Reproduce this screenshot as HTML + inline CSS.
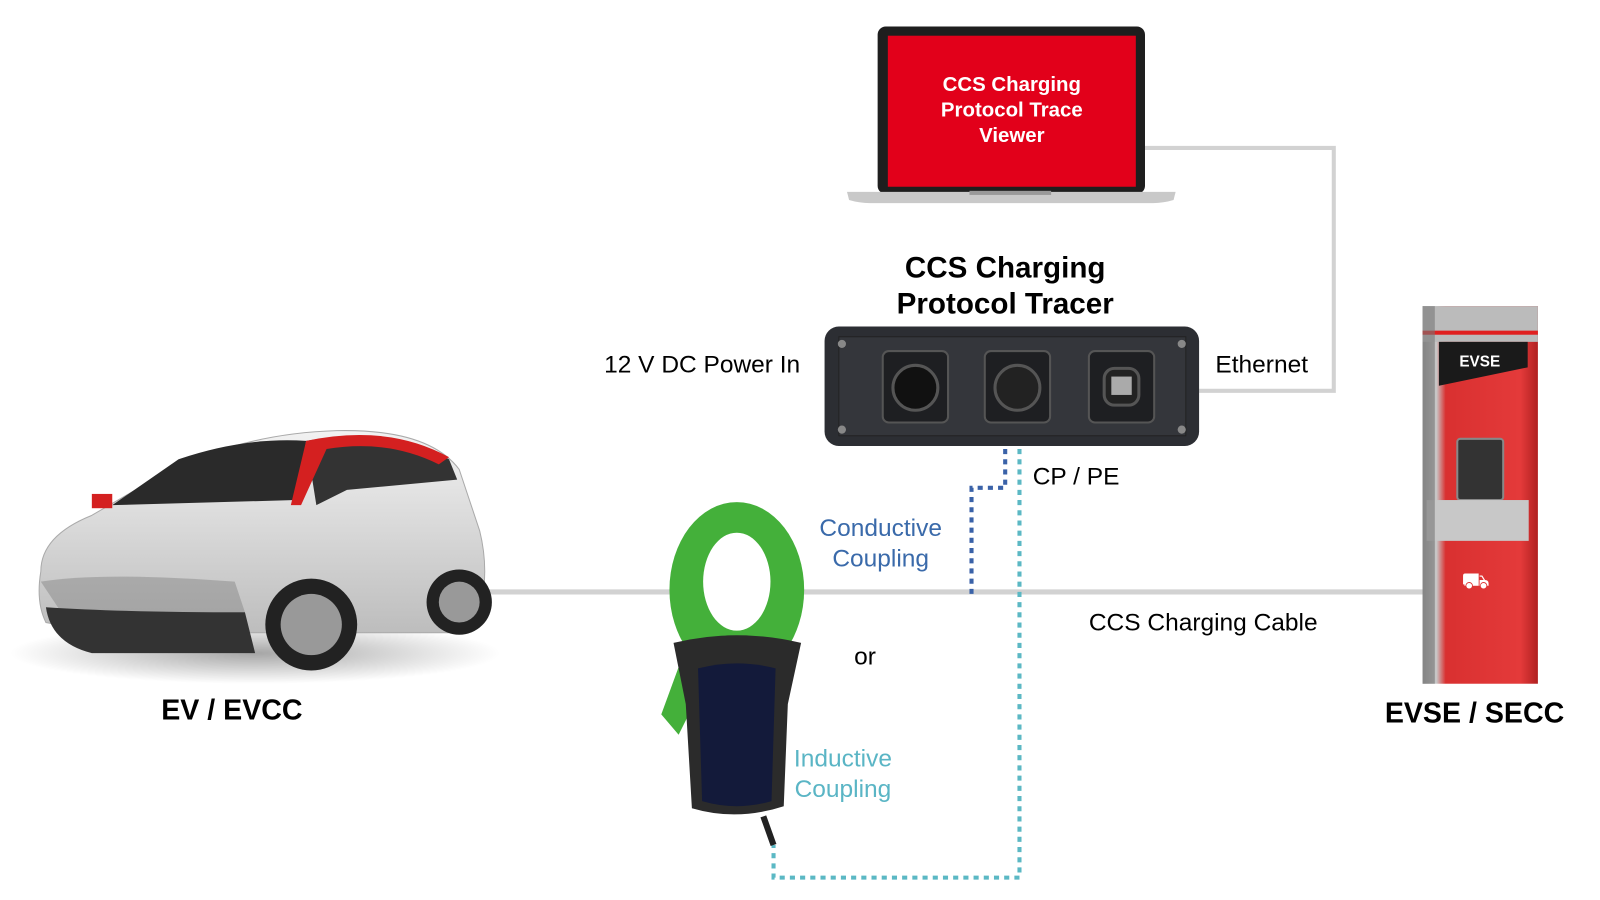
<!DOCTYPE html>
<html><head><meta charset="utf-8"><style>
body{margin:0;width:1600px;height:900px;background:#fff;position:relative;overflow:hidden;font-family:"Liberation Sans",Arial,sans-serif}
#w{position:absolute;left:0;top:0;width:1568px;height:882px;transform:scale(1.0205);transform-origin:0 0}
.t{position:absolute;white-space:nowrap}
</style></head><body><div id="w">
<svg width="1568" height="882" style="position:absolute;left:0;top:0">
<defs>
<linearGradient id="ev" x1="0" x2="1"><stop offset="0" stop-color="#9a9a9a"/><stop offset=".12" stop-color="#c8c8c8"/><stop offset=".2" stop-color="#d93030"/><stop offset=".85" stop-color="#e43a3a"/><stop offset="1" stop-color="#b02020"/></linearGradient>
<linearGradient id="body" x1="0" y1="0" x2="0" y2="1"><stop offset="0" stop-color="#f2f2f2"/><stop offset="1" stop-color="#bdbdbd"/></linearGradient>
<radialGradient id="sh"><stop offset="0" stop-color="#000" stop-opacity=".35"/><stop offset="1" stop-color="#000" stop-opacity="0"/></radialGradient>
</defs>
<polyline points="1122,145 1307,145 1307,383 1175,383" fill="none" stroke="#d2d2d2" stroke-width="4"/>
<line x1="470" y1="580" x2="1396" y2="580" stroke="#d2d2d2" stroke-width="5"/>
<polyline points="985,440 985,478 952,478 952,585" fill="none" stroke="#3a62a8" stroke-width="4" stroke-dasharray="5,5"/>
<polyline points="999,440 999,860 758,860 758,828" fill="none" stroke="#5bb8c4" stroke-width="4" stroke-dasharray="5,5"/>
<rect x="860" y="26" width="262" height="164" rx="8" fill="#1e1e1e"/>
<rect x="870" y="35" width="243" height="148" fill="#e2001a"/>
<path d="M830,188 H1152 L1150,196 Q1140,199 1130,199 H852 Q842,199 832,196Z" fill="#c9c9c9"/>
<rect x="950" y="187" width="80" height="4" fill="#999"/>
<rect x="808" y="320" width="367" height="117" rx="14" fill="#2c2e33"/>
<rect x="822" y="330" width="340" height="97" fill="#34363b" stroke="#222" />
<g fill="#1e1f22" stroke="#555" stroke-width="2">
<rect x="865" y="344" width="64" height="70" rx="6"/><rect x="965" y="344" width="64" height="70" rx="6"/><rect x="1067" y="344" width="64" height="70" rx="6"/>
</g>
<circle cx="897" cy="380" r="22" fill="#111" stroke="#555" stroke-width="3"/>
<circle cx="997" cy="380" r="22" fill="#222" stroke="#555" stroke-width="3"/>
<rect x="1082" y="361" width="34" height="36" rx="10" fill="#222" stroke="#555" stroke-width="3"/>
<rect x="1089" y="369" width="20" height="18" fill="#aaa"/>
<g fill="#888"><circle cx="825" cy="337" r="4"/><circle cx="825" cy="421" r="4"/><circle cx="1158" cy="337" r="4"/><circle cx="1158" cy="421" r="4"/></g>
<ellipse cx="250" cy="640" rx="240" ry="30" fill="url(#sh)"/>
<path d="M40,560 Q40,525 90,505 L150,470 Q230,425 330,422 Q420,420 450,460 L470,520 Q480,560 470,600 L440,620 H100 L45,610 Q35,590 40,560Z" fill="url(#body)" stroke="#aaa"/>
<path d="M110,495 L175,450 Q240,428 300,432 L290,490 Z" fill="#2a2a2a"/>
<path d="M300,432 Q380,418 440,450 L448,470 L340,480 L310,495Z" fill="#333"/>
<path d="M300,432 Q380,415 440,448 L430,455 Q380,430 320,440 L295,495 L285,495Z" fill="#d42020"/>
<rect x="90" y="484" width="20" height="14" fill="#d42020"/>
<path d="M40,570 Q100,560 230,570 L240,600 H60Z" fill="#888" opacity=".5"/>
<path d="M45,595 Q120,600 240,600 L250,640 H90 Q50,630 45,595Z" fill="#333"/>
<circle cx="305" cy="612" r="45" fill="#222"/><circle cx="305" cy="612" r="30" fill="#999"/>
<circle cx="450" cy="590" r="32" fill="#222"/><circle cx="450" cy="590" r="20" fill="#999"/>
<ellipse cx="722" cy="578" rx="66" ry="86" fill="#44b03a"/>
<ellipse cx="722" cy="570" rx="33" ry="48" fill="#fff"/>
<path d="M670,640 L648,700 L665,720 L690,670Z" fill="#44b03a"/>
<path d="M660,630 Q722,615 785,630 L772,690 L768,790 Q722,805 678,792 L672,690Z" fill="#2b2b2b"/>
<path d="M684,655 Q722,645 760,655 L756,785 Q722,795 688,785Z" fill="#131a3a"/>
<line x1="748" y1="800" x2="758" y2="828" stroke="#222" stroke-width="6"/>
<rect x="1394" y="300" width="113" height="370" fill="url(#ev)"/>
<rect x="1394" y="300" width="113" height="35" fill="#bbb"/>
<rect x="1394" y="324" width="113" height="4" fill="#e02020"/>
<path d="M1410,335 H1497 V360 L1410,378Z" fill="#1a1a1a"/>
<rect x="1428" y="430" width="45" height="60" rx="3" fill="#333" stroke="#888" stroke-width="2"/>
<rect x="1398" y="490" width="100" height="40" fill="#c8c8c8"/>
<rect x="1394" y="300" width="12" height="370" fill="#777" opacity=".6"/>
</svg>
<div class="t" style="left:870px;top:71px;width:243px;text-align:center;color:#fff;font-weight:bold;font-size:20px;line-height:25px">CCS Charging<br>Protocol Trace<br>Viewer</div>
<div class="t" style="left:835px;top:246px;width:300px;text-align:center;font-weight:bold;font-size:29px;line-height:35px">CCS Charging<br>Protocol Tracer</div>
<div class="t" style="left:592px;top:344px;font-size:24px">12 V DC Power In</div>
<div class="t" style="left:1191px;top:344px;font-size:24px">Ethernet</div>
<div class="t" style="left:1012px;top:454px;font-size:24px">CP / PE</div>
<div class="t" style="left:780px;top:503px;width:166px;text-align:center;font-size:24px;line-height:30px;color:#3a6aaa">Conductive<br>Coupling</div>
<div class="t" style="left:837px;top:630px;font-size:24px">or</div>
<div class="t" style="left:760px;top:729px;width:132px;text-align:center;font-size:24px;line-height:30px;color:#5ab5c5">Inductive<br>Coupling</div>
<div class="t" style="left:1067px;top:597px;font-size:24px">CCS Charging Cable</div>
<div class="t" style="left:158px;top:680px;font-weight:bold;font-size:28px">EV / EVCC</div>
<div class="t" style="left:1357px;top:683px;font-weight:bold;font-size:28px">EVSE / SECC</div>
<div class="t" style="left:1430px;top:346px;font-weight:bold;font-size:15px;color:#fff">EVSE</div>
<div class="t" style="left:1432px;top:556px;font-size:22px;color:#fff">⛟</div>
</div></body></html>
